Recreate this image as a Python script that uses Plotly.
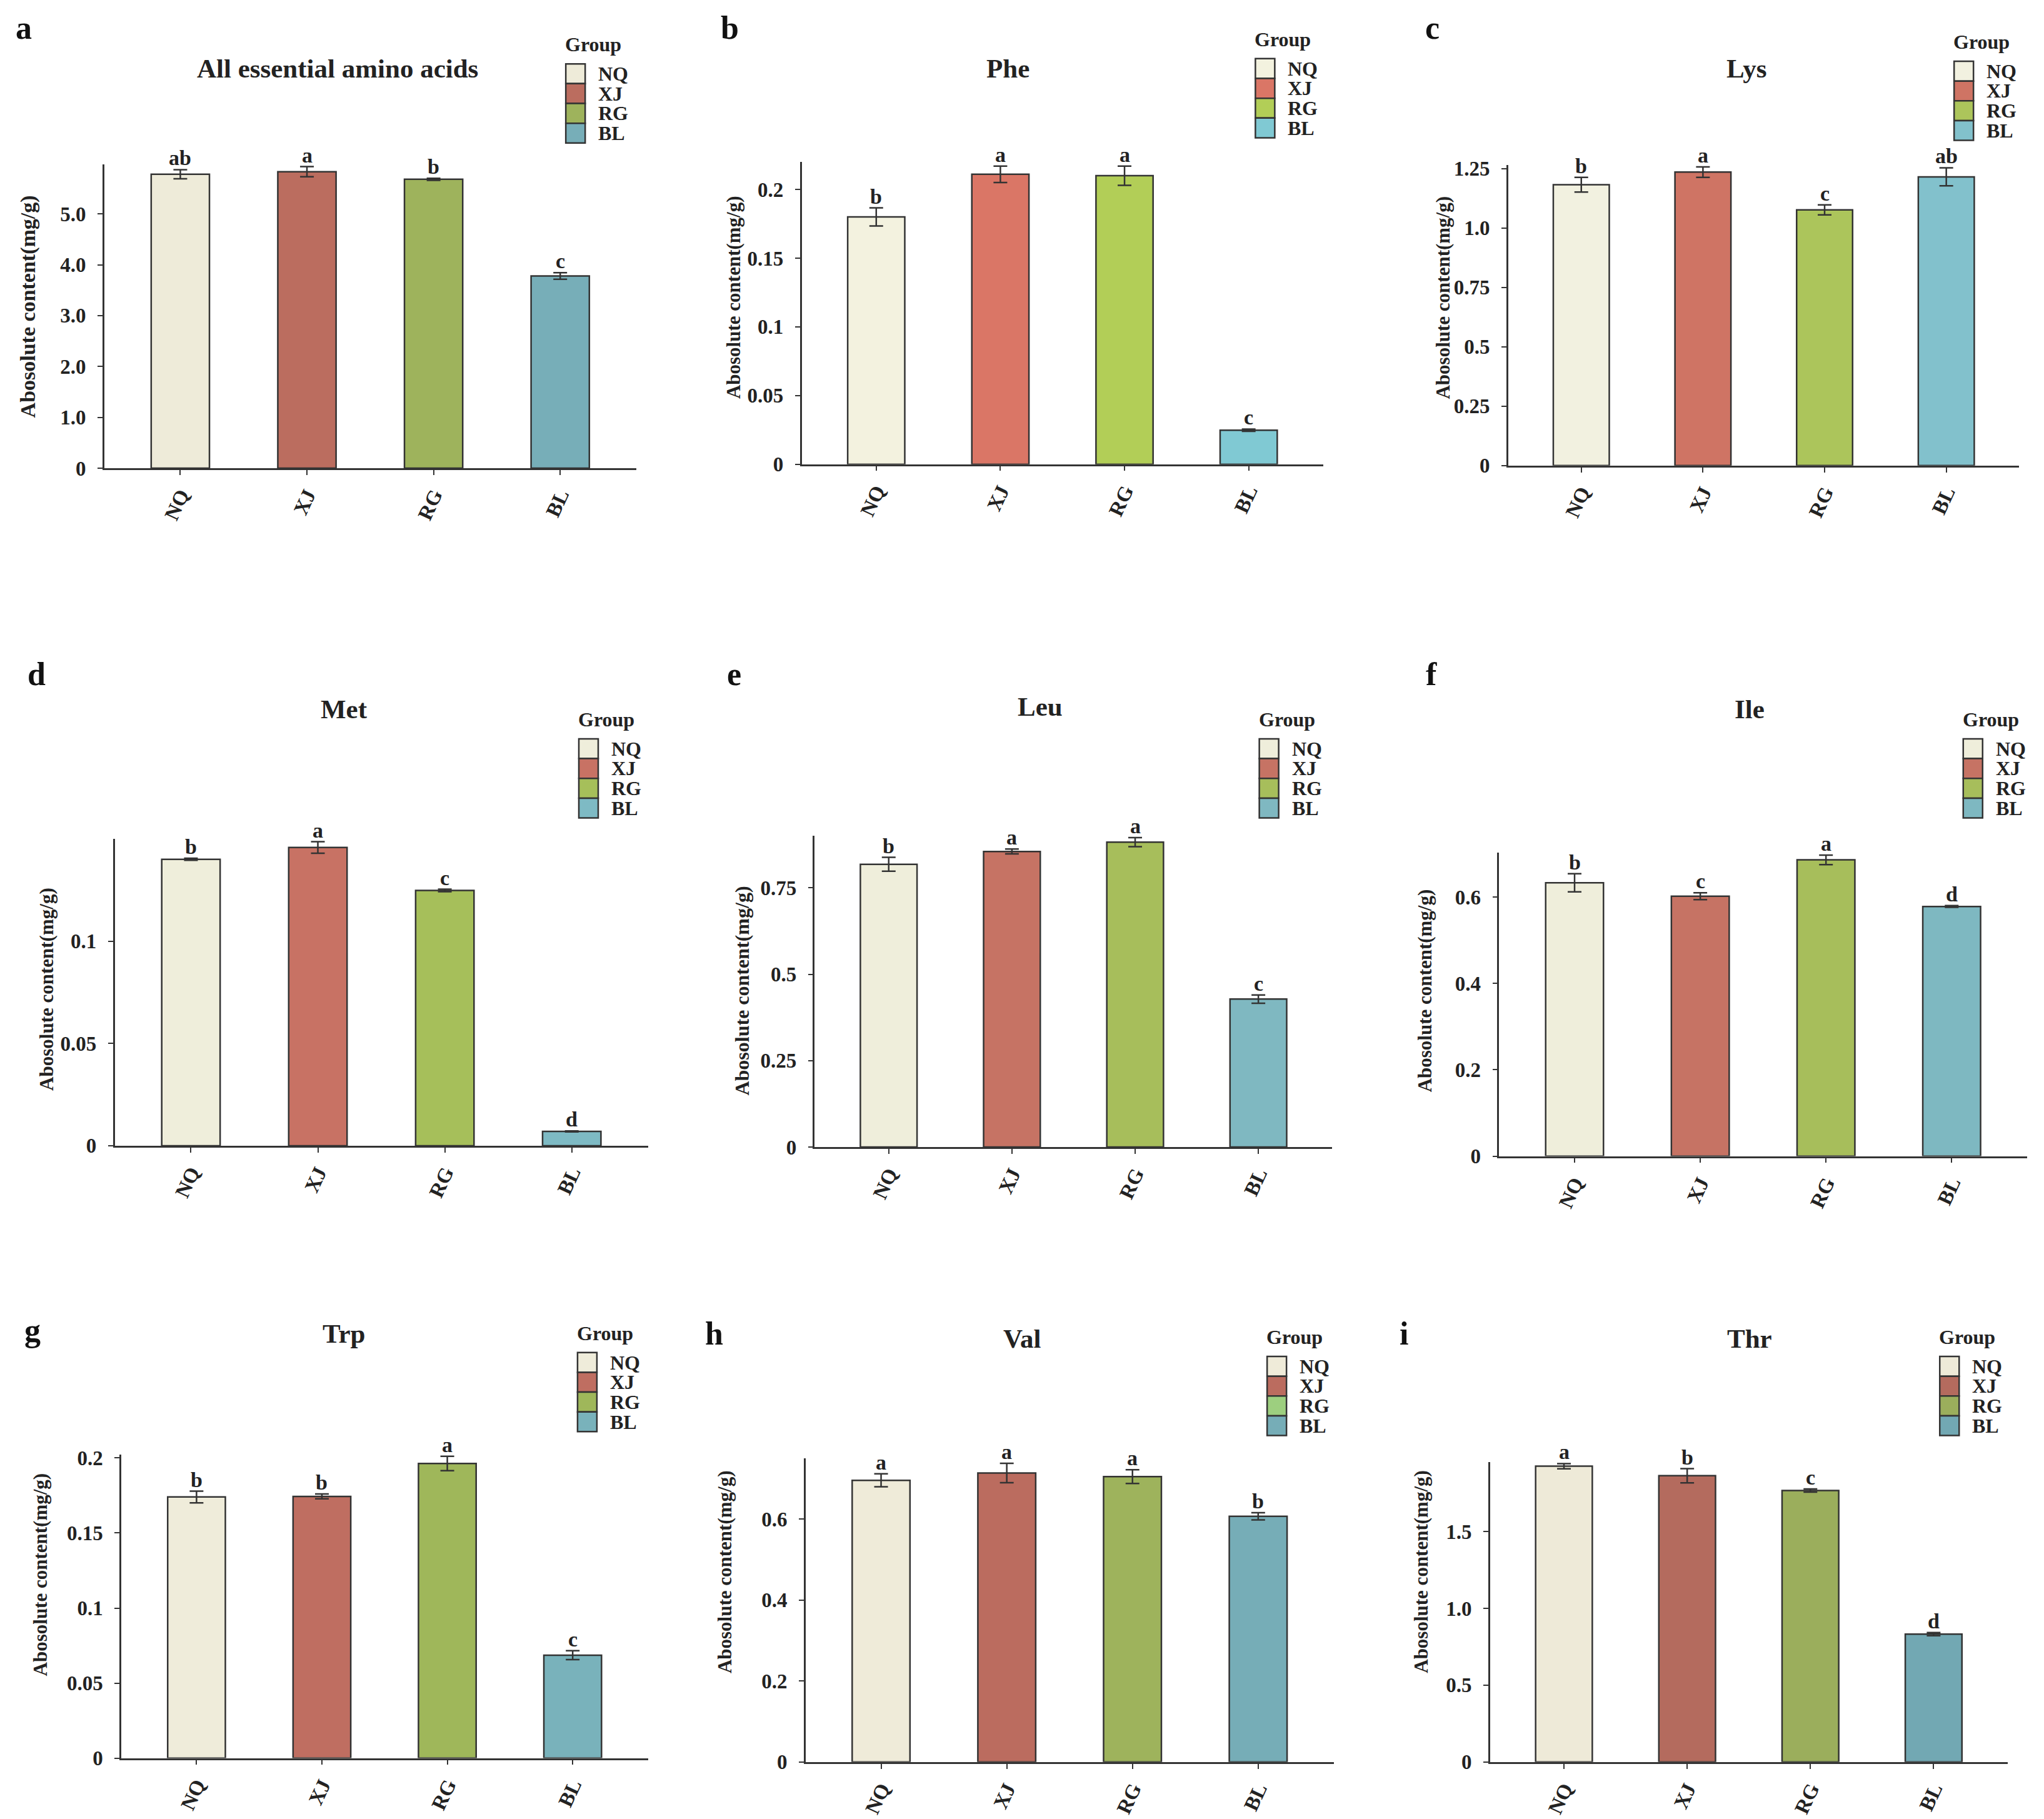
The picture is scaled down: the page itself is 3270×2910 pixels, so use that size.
import plotly.graph_objects as go

groups = ["NQ", "XJ", "RG", "BL"]
y_title = "Abosolute content(mg/g)"

# all essential amino acids (a) and the single amino acids (b-i)
eaa_mean = [5.78, 5.83, 5.68, 3.78]
eaa_sd = [0.09, 0.10, 0.02, 0.065]
eaa_sig = ["ab", "a", "b", "c"]

phe_mean = [0.180, 0.211, 0.210, 0.0248]
phe_sd = [0.0066, 0.006, 0.007, 0.0008]
phe_sig = ["b", "a", "a", "c"]

lys_mean = [1.182, 1.235, 1.076, 1.215]
lys_sd = [0.031, 0.022, 0.021, 0.038]
lys_sig = ["b", "a", "c", "ab"]

met_mean = [0.1400, 0.1458, 0.1248, 0.0070]
met_sd = [0.0005, 0.0028, 0.0006, 0.0002]
met_sig = ["b", "a", "c", "d"]

leu_mean = [0.818, 0.855, 0.882, 0.428]
leu_sd = [0.020, 0.007, 0.013, 0.012]
leu_sig = ["b", "a", "a", "c"]

ile_mean = [0.633, 0.602, 0.686, 0.578]
ile_sd = [0.021, 0.008, 0.011, 0.002]
ile_sig = ["b", "c", "a", "d"]

trp_mean = [0.174, 0.1744, 0.1963, 0.0686]
trp_sd = [0.0039, 0.0016, 0.0048, 0.003]
trp_sig = ["b", "b", "a", "c"]

val_mean = [0.696, 0.714, 0.705, 0.607]
val_sd = [0.016, 0.024, 0.017, 0.009]
val_sig = ["a", "a", "a", "b"]

thr_mean = [1.925, 1.863, 1.767, 0.832]
thr_sd = [0.017, 0.046, 0.010, 0.010]
thr_sig = ["a", "b", "c", "d"]

# tick labels
eaa_ticks = [0, 1, 2, 3, 4, 5]
eaa_ticktext = ["0", "1.0", "2.0", "3.0", "4.0", "5.0"]
phe_ticks = [0, 0.05, 0.1, 0.15, 0.2]
phe_ticktext = ["0", "0.05", "0.1", "0.15", "0.2"]
lys_ticks = [0, 0.25, 0.5, 0.75, 1.0, 1.25]
lys_ticktext = ["0", "0.25", "0.5", "0.75", "1.0", "1.25"]
met_ticks = [0, 0.05, 0.1]
met_ticktext = ["0", "0.05", "0.1"]
leu_ticks = [0, 0.25, 0.5, 0.75]
leu_ticktext = ["0", "0.25", "0.5", "0.75"]
ile_ticks = [0, 0.2, 0.4, 0.6]
ile_ticktext = ["0", "0.2", "0.4", "0.6"]
trp_ticks = [0, 0.05, 0.1, 0.15, 0.2]
trp_ticktext = ["0", "0.05", "0.1", "0.15", "0.2"]
val_ticks = [0, 0.2, 0.4, 0.6]
val_ticktext = ["0", "0.2", "0.4", "0.6"]
thr_ticks = [0, 0.5, 1.0, 1.5]
thr_ticktext = ["0", "0.5", "1.0", "1.5"]

tags = ["a", "b", "c", "d", "e", "f", "g", "h", "i"]
titles = ["All essential amino acids", "Phe", "Lys", "Met", "Leu", "Ile", "Trp", "Val", "Thr"]
means = [eaa_mean, phe_mean, lys_mean, met_mean, leu_mean, ile_mean, trp_mean, val_mean, thr_mean]
sds = [eaa_sd, phe_sd, lys_sd, met_sd, leu_sd, ile_sd, trp_sd, val_sd, thr_sd]
sigs = [eaa_sig, phe_sig, lys_sig, met_sig, leu_sig, ile_sig, trp_sig, val_sig, thr_sig]
ticks = [eaa_ticks, phe_ticks, lys_ticks, met_ticks, leu_ticks, ile_ticks, trp_ticks, val_ticks, thr_ticks]
ticktexts = [eaa_ticktext, phe_ticktext, lys_ticktext, met_ticktext, leu_ticktext,
             ile_ticktext, trp_ticktext, val_ticktext, thr_ticktext]

colors = [
    ["#EEEBD9", "#BB6D5F", "#9EB35C", "#77AEB8"],
    ["#F3F2DF", "#DA7666", "#B2CE57", "#80C9D3"],
    ["#F2F1E0", "#CF7464", "#ACC55B", "#82C1CC"],
    ["#EFEEDB", "#C87264", "#A6BF5A", "#7EBAC4"],
    ["#EFEEDB", "#C67364", "#A7BE5B", "#7FB8C1"],
    ["#EFEEDB", "#C67364", "#A7BE5B", "#7EB8C1"],
    ["#EFECDA", "#BF6E61", "#9FB75A", "#79B2BB"],
    ["#EFEBD9", "#BB6C5F", "#9EB35C", "#76ADB7"],
    ["#EEEAD8", "#B46B5E", "#9BAE5C", "#72A8B3"],
]
legend_colors = [c[:] for c in colors]
legend_colors[7][2] = "#9DCF7F"

# geometry in preview pixels (1568 px wide preview of the page)
# x0, x1, ytop, ybase, ymax, title (x, y), tag (x, y), legend (x, y), y-title (x, y, size)
geo = [
    (80, 488, 127, 360, 5.97, (259, 53), (18, 22), (434, 35), (22, 236, 34)),
    (615, 1015, 125, 357, 0.22, (773, 53), (560, 22), (963, 31), (563, 229, 31)),
    (1157, 1549, 127.5, 358, 1.264, (1340, 53), (1099, 22), (1499, 33), (1107, 229, 31)),
    (88, 497, 644.5, 880, 0.150, (264, 545), (28, 518), (444, 553), (36, 760, 31)),
    (625, 1022, 642, 881, 0.901, (798, 543), (563, 518), (966, 553), (569, 761, 32)),
    (1150, 1555, 655, 888, 0.703, (1342, 545), (1098, 518), (1506, 553), (1093, 761, 31)),
    (93, 497, 1117, 1350, 0.2023, (264, 1024), (25, 1022), (443, 1024), (31, 1209, 31)),
    (618, 1023, 1120, 1353, 0.75, (784, 1028), (548, 1024), (972, 1027), (556, 1207, 31)),
    (1143, 1540, 1123, 1353, 1.95, (1342, 1028), (1077, 1024), (1488, 1027), (1090, 1207, 31)),
]

W, H = 3270, 2910
S = W / 1568
EDGE = "#333333"
FONT = "Liberation Serif"


# preview px -> paper fraction (small trim for page offset)
def fx(x):
    return (x - 3.8) * S / W


def fy(y):
    return 1 - ((y - 10.3) / 0.9898) * S / H


def py(y):
    # preview px -> page px from top
    return ((y - 10.3) / 0.9898) * S


fig = go.Figure()
annotations = []
shapes = []

for i in range(9):
    n = "" if i == 0 else str(i + 1)
    xa, ya = "x" + n, "y" + n
    x0, x1, ytop, ybase, ymax, tpos, gpos, lpos, ytpos = geo[i]

    fig.add_trace(go.Bar(
        x=groups, y=means[i], width=0.46,
        marker=dict(color=colors[i], line=dict(color=EDGE, width=2.5)),
        error_y=dict(type="data", array=sds[i], color=EDGE, thickness=2.5, width=11),
        xaxis=xa, yaxis=ya, showlegend=False,
    ))

    fig.layout["xaxis" + n] = dict(
        domain=[fx(x0), fx(x1)], anchor=ya, type="category", range=[-0.6, 3.6],
        showline=True, linecolor=EDGE, linewidth=2.5, showgrid=False, zeroline=False,
        ticks="outside", ticklen=8, tickwidth=2, tickcolor=EDGE, tickangle=-65,
        tickfont=dict(family=FONT, size=33, color="#222", weight="bold"),
    )
    fig.layout["yaxis" + n] = dict(
        domain=[fy(ybase), fy(ytop)], anchor=xa, range=[0, ymax],
        showline=True, linecolor=EDGE, linewidth=2.5, showgrid=False, zeroline=False,
        ticks="outside", ticklen=8, tickwidth=2, tickcolor=EDGE,
        tickvals=ticks[i], ticktext=ticktexts[i], ticklabelstandoff=12,
        tickfont=dict(family=FONT, size=33, color="#222", weight="bold"),
    )

    # y axis title, placed like the original
    annotations.append(dict(
        x=fx(ytpos[0]), y=fy(ytpos[1]), xref="paper", yref="paper", text=y_title,
        textangle=-90, showarrow=False, xanchor="center", yanchor="middle",
        font=dict(family=FONT, size=ytpos[2], color="#222", weight="bold"),
    ))

    # significance letters
    for g, m, s, t in zip(groups, means[i], sds[i], sigs[i]):
        annotations.append(dict(
            x=g, y=m + s, xref=xa, yref=ya, text=t, showarrow=False,
            yanchor="bottom", yshift=-2,
            font=dict(family=FONT, size=34, color="#222", weight="bold"),
        ))

    # panel title and tag
    annotations.append(dict(
        x=fx(tpos[0]), y=fy(tpos[1]), xref="paper", yref="paper", text=titles[i],
        showarrow=False, xanchor="center", yanchor="middle",
        font=dict(family=FONT, size=43, color="#222", weight="bold"),
    ))
    annotations.append(dict(
        x=fx(gpos[0]), y=fy(gpos[1]), xref="paper", yref="paper", text=tags[i],
        showarrow=False, xanchor="center", yanchor="middle",
        font=dict(family=FONT, size=52, color="#111", weight="bold"),
    ))

    # legend block
    lx, ly = lpos
    annotations.append(dict(
        x=fx(lx) - 3 / W, y=fy(ly), xref="paper", yref="paper", text="Group",
        showarrow=False, xanchor="left", yanchor="middle",
        font=dict(family=FONT, size=32, color="#222", weight="bold"),
    ))
    top = py(ly) + 31
    left = fx(lx) * W
    for k, g in enumerate(groups):
        y0 = top + k * 32
        shapes.append(dict(
            type="rect", xref="paper", yref="paper",
            x0=left / W, x1=(left + 31) / W, y0=1 - y0 / H, y1=1 - (y0 + 32) / H,
            fillcolor=legend_colors[i][k], line=dict(color=EDGE, width=2.5),
        ))
        annotations.append(dict(
            x=(left + 50) / W, y=1 - (y0 + 16) / H, xref="paper", yref="paper", text=g,
            showarrow=False, xanchor="left", yanchor="middle",
            font=dict(family=FONT, size=32, color="#222", weight="bold"),
        ))

fig.update_layout(
    width=W, height=H,
    margin=dict(l=0, r=0, t=0, b=0),
    paper_bgcolor="white", plot_bgcolor="white",
    bargap=0.5,
    annotations=annotations, shapes=shapes,
    showlegend=False,
)

fig.write_html("out.html")
